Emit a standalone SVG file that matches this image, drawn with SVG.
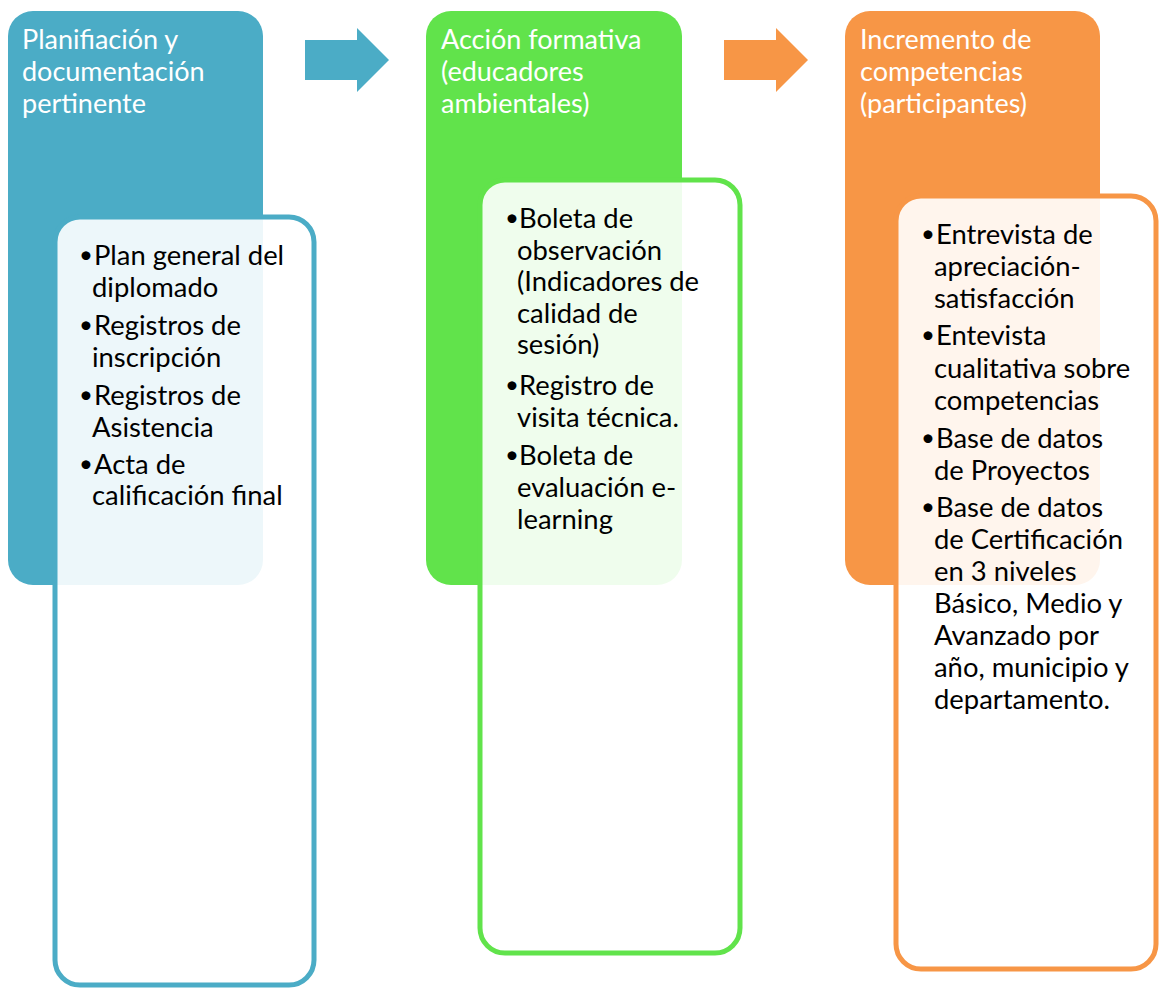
<svg xmlns="http://www.w3.org/2000/svg" width="1159" height="988" viewBox="0 0 1159 988">
<style>
.hd{font-family:Lato,"Open Sans","Liberation Sans",sans-serif;font-size:27px;fill:#ffffff}
.bd{font-family:Lato,"Open Sans","Liberation Sans",sans-serif;font-size:27.4px;fill:#000000}
.bu{font-family:Lato,"Open Sans","Liberation Sans",sans-serif;font-size:24px;fill:#000000}
.inner{fill:#ffffff;fill-opacity:0.9;stroke-width:5}
</style>
<rect width="1159" height="988" fill="#ffffff"/>
<g id="col1-head">
<rect x="8" y="11" width="255" height="574" rx="25" fill="#4BACC6"/>
<text class="hd"><tspan x="22" y="49">Planifiación y</tspan><tspan x="22" y="81">documentación</tspan><tspan x="22" y="113">pertinente</tspan></text>
</g>
<g id="col2-head">
<rect x="426" y="11" width="256" height="574" rx="25" fill="#61E34B"/>
<text class="hd"><tspan x="441" y="49">Acción formativa</tspan><tspan x="441" y="81">(educadores</tspan><tspan x="441" y="113">ambientales)</tspan></text>
</g>
<g id="col3-head">
<rect x="845" y="11" width="255" height="574" rx="25" fill="#F79646"/>
<text class="hd"><tspan x="860" y="49">Incremento de</tspan><tspan x="860" y="81">competencias</tspan><tspan x="860" y="113">(participantes)</tspan></text>
</g>
<g id="connectors">
<polygon points="305,40 357,40 357,28 389,60 357,92 357,80 305,80" fill="#4BACC6"/>
<polygon points="724,40 776,40 776,28 808,60 776,92 776,80 724,80" fill="#F79646"/>
</g>
<g id="col1-body">
<rect class="inner" x="55" y="217" width="259" height="768" rx="25" stroke="#4BACC6"/>
<text class="bu"><tspan x="79" y="263">•</tspan><tspan x="79" y="333">•</tspan><tspan x="79" y="403">•</tspan><tspan x="79" y="472">•</tspan></text>
<text class="bd">
<tspan x="94" y="265">Plan general del</tspan><tspan x="92" y="297">diplomado</tspan>
<tspan x="94" y="335">Registros de</tspan><tspan x="92" y="367">inscripción</tspan>
<tspan x="94" y="405">Registros de</tspan><tspan x="92" y="437">Asistencia</tspan>
<tspan x="94" y="474">Acta de</tspan><tspan x="92" y="505">calificación final</tspan>
</text>
</g>
<g id="col2-body">
<rect class="inner" x="480" y="180" width="260" height="773" rx="25" stroke="#61E34B"/>
<text class="bu"><tspan x="505" y="226">•</tspan><tspan x="505" y="393">•</tspan><tspan x="505" y="463">•</tspan></text>
<text class="bd">
<tspan x="519" y="228">Boleta de</tspan><tspan x="517" y="260">observación</tspan><tspan x="517" y="291">(Indicadores de</tspan><tspan x="517" y="323">calidad de</tspan><tspan x="517" y="354">sesión)</tspan>
<tspan x="519" y="395">Registro de</tspan><tspan x="517" y="427">visita técnica.</tspan>
<tspan x="519" y="465">Boleta de</tspan><tspan x="517" y="497">evaluación e-</tspan><tspan x="517" y="529">learning</tspan>
</text>
</g>
<g id="col3-body">
<rect class="inner" x="896" y="196" width="260" height="773" rx="25" stroke="#F79646"/>
<text class="bu"><tspan x="921" y="242">•</tspan><tspan x="921" y="343">•</tspan><tspan x="921" y="446">•</tspan><tspan x="921" y="515">•</tspan></text>
<text class="bd">
<tspan x="936" y="244">Entrevista de</tspan><tspan x="934" y="276">apreciación-</tspan><tspan x="934" y="308">satisfacción</tspan>
<tspan x="936" y="345">Entevista</tspan><tspan x="934" y="378">cualitativa sobre</tspan><tspan x="934" y="410">competencias</tspan>
<tspan x="936" y="448">Base de datos</tspan><tspan x="934" y="480">de Proyectos</tspan>
<tspan x="936" y="517">Base de datos</tspan><tspan x="934" y="549">de Certificación</tspan><tspan x="934" y="581">en 3 niveles</tspan><tspan x="934" y="613">Básico, Medio y</tspan><tspan x="934" y="645">Avanzado por</tspan><tspan x="934" y="677">año, municipio y</tspan><tspan x="934" y="709">departamento.</tspan>
</text>
</g>
</svg>
